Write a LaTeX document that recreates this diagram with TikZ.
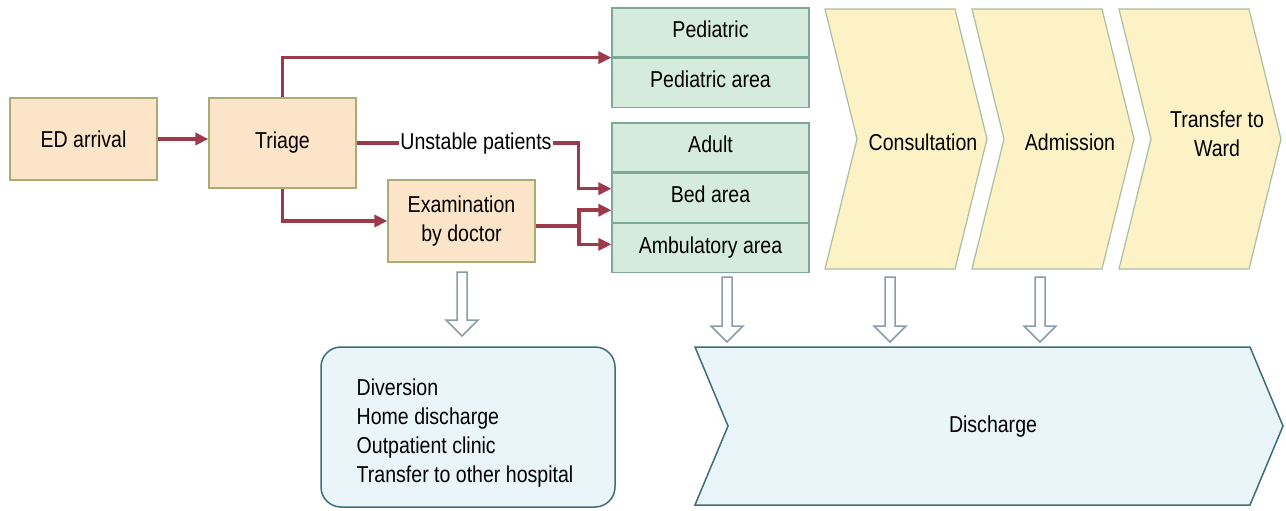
\documentclass[tikz,border=0pt]{standalone}
\usepackage{fontspec}
\setmainfont{Liberation Sans}[FakeStretch=0.85]
\usetikzlibrary{arrows.meta,positioning}
\definecolor{boxorange}{HTML}{FCE4C8}
\definecolor{orangeline}{HTML}{A9AC74}
\definecolor{boxgreen}{HTML}{D4EBDD}
\definecolor{greenline}{HTML}{7FA89A}
\definecolor{boxyellow}{HTML}{FCF2C6}
\definecolor{yellowline}{HTML}{AABF9F}
\definecolor{boxblue}{HTML}{EAF5F9}
\definecolor{blueline}{HTML}{3E6E77}
\definecolor{flowred}{HTML}{9C3A4C}
\definecolor{hollowline}{HTML}{8A9CA6}
\tikzset{
  stage/.style={draw=orangeline, fill=boxorange, line width=1.2pt, minimum width=147pt, minimum height=82pt, align=center},
  area/.style={draw=greenline, fill=boxgreen, line width=1.2pt, minimum width=197pt, minimum height=49pt, text height=1.05em, text depth=0em},
  flowline/.style={draw=flowred, line width=3.5pt},
  flow/.style={flowline, -{Triangle[length=13pt,width=12pt]}},
  chev/.style={draw=yellowline, fill=boxyellow, line width=1.2pt},
  hollow/.style={draw=hollowline, fill=white, line width=1.5pt}
}
\begin{document}
\begin{tikzpicture}[x=1pt,y=-1pt,font=\fontsize{23}{29}\selectfont]
\useasboundingbox[fill=white] (0,0) rectangle (1286,511);
\node[stage] (arrival) at (83.5,139) {ED arrival};
\node[stage,minimum height=90pt] (triage) at (282.5,143) {Triage};
\node[stage] (exam) at (461.5,221) {Examination\\by doctor};
\node[area] (ped) at (710.5,32.5) {Pediatric};
\node[area,below=0pt of ped] (pedarea) {Pediatric area};
\node[area] (adult) at (710.5,147.5) {Adult};
\node[area,below=0pt of adult] (bed) {Bed area};
\node[area,below=0pt of bed] (amb) {Ambulatory area};
\foreach \x/\y/\name/\lab in {825/142/consult/Consultation,972/142/admit/Admission,1119/134/ward/{Transfer to\\Ward}}{
    \draw[chev] (\x,9) -- ++(130,0) -- ++(32,130) -- ++(-32,130) -- ++(-130,0) -- ++(32,-130) -- cycle;
    \node[align=center] (\name) at (\x+98,\y) {\lab};
}
\draw[draw=blueline, fill=boxblue, line width=1.5pt] (695,347) -- (1250,347) -- (1283,426) -- (1250,505) -- (695,505) -- (728,426) -- cycle;
\node (discharge) at (993,427) {Discharge};
\node[draw=blueline, fill=boxblue, line width=1.5pt, rounded corners=20pt, minimum width=294pt, minimum height=160pt] (outcome) at (468,427) {};
\node[align=left] (outlist) at (465,433) {Diversion\\Home discharge\\Outpatient clinic\\Transfer to other hospital};
\foreach \x/\top/\tip in {462/272/336,727/277/342,890/277/342,1040/277/342}{
    \draw[hollow] (\x-5,\top) -- (\x+5,\top) -- (\x+5,\tip-16) -- (\x+16,\tip-16) -- (\x,\tip) -- (\x-16,\tip-16) -- (\x-5,\tip-16) -- cycle;
}
\draw[flow] (arrival.east) -- (arrival.east -| triage.west);
\draw[flow] (triage.north) |- (pedarea.north west);
\draw[flow] (triage.south) |- (exam.west);
\node[inner sep=1pt] (unstable) at (476,144) {Unstable patients};
\draw[flowline] (triage.east |- 0,143) -- (unstable.west |- 0,143);
\draw[flow] (unstable.east |- 0,143) -| ([xshift=-33pt,yshift=9pt]bed.west) -- ([yshift=9pt]bed.west);
\coordinate (split) at (579,226);
\draw[flowline] (exam.east |- split) -- (split);
\draw[flow] (split) |- ([yshift=-12.5pt]bed.west);
\draw[flow] (split) |- ([yshift=3.5pt]amb.west);
\end{tikzpicture}
\end{document}
